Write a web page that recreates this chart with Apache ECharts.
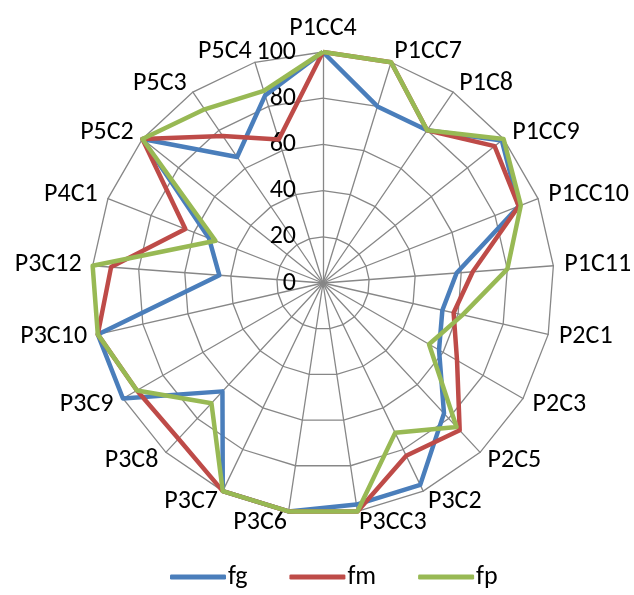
<!DOCTYPE html>
<html>
<head>
<meta charset="utf-8">
<script src="https://cdn.jsdelivr.net/npm/echarts@6/dist/echarts.min.js"></script>
<style>
  html, body { margin: 0; padding: 0; background: #ffffff; }
  #chart { width: 634px; height: 595px; }
</style>
</head>
<body>
<div id="chart"></div>
<script>
// Categories, listed clockwise from the top spoke
const categories = ['P1CC4', 'P1CC7', 'P1C8', 'P1CC9', 'P1CC10', 'P1C11', 'P2C1', 'P2C3', 'P2C5',
  'P3C2', 'P3CC3', 'P3C6', 'P3C7', 'P3C8', 'P3C9', 'P3C10', 'P3C12', 'P4C1', 'P5C2', 'P5C3', 'P5C4'];

const fg = [100, 80, 80, 99, 91, 58, 53, 58, 77, 97, 97, 100, 100, 64, 100, 100, 45, 53, 100, 66, 85];
const fm = [100, 100, 80, 95, 91, 65, 58, 67, 87, 83, 100, 100, 100, 92, 93, 100, 92, 64, 100, 77, 65];
const fp = [100, 100, 80, 100, 92, 80, 62, 53, 85, 72, 100, 100, 100, 71, 93, 100, 100, 50, 100, 91, 87];

const tickLabels = [0, 20, 40, 60, 80, 100];

const seriesNames = ['fg', 'fm', 'fp'];
const seriesColors = ['#4A7EBB', '#BE4B48', '#98B954'];

// ECharts lays radar spokes out counter-clockwise; reorder so they run clockwise
const order = [0];
for (let i = categories.length - 1; i >= 1; i--) order.push(i);
const reorder = arr => order.map(i => arr[i]);

const FONT = 'Carlito, Lato, sans-serif';
const FONT_SIZE = 26;
const center = [323, 283];
const radius = 231;
const axisMax = tickLabels[tickLabels.length - 1];

const chart = echarts.init(document.getElementById('chart'), null, { renderer: 'canvas' });

chart.setOption({
  animation: false,
  backgroundColor: '#ffffff',
  legend: {
    bottom: 0,
    left: 165,
    data: seriesNames,
    icon: 'roundRect',
    itemWidth: 56,
    itemHeight: 5,
    itemGap: 42,
    textStyle: { fontFamily: FONT, fontSize: FONT_SIZE, color: '#000', padding: [0, 0, 0, -3] }
  },
  radar: [
    {
      center: center,
      radius: radius,
      startAngle: 90,
      shape: 'polygon',
      splitNumber: tickLabels.length - 1,
      indicator: reorder(categories).map(name => ({ name: name, min: 0, max: axisMax })),
      axisName: { color: '#000', fontFamily: FONT, fontSize: FONT_SIZE },
      nameGap: 11,
      axisLine: { lineStyle: { color: '#878787', width: 1.3 } },
      splitLine: { lineStyle: { color: '#878787', width: 1.3 } },
      splitArea: { show: false },
      axisTick: { show: false },
      axisLabel: { show: false }
    },
    {
      // single spoke overlay carrying the value labels on the top axis
      center: center,
      radius: radius,
      startAngle: 90,
      shape: 'polygon',
      splitNumber: tickLabels.length - 1,
      indicator: [{ name: '', min: 0, max: axisMax }],
      axisName: { show: false },
      axisLine: { show: false },
      splitLine: { show: false },
      splitArea: { show: false },
      axisTick: { show: false },
      axisLabel: { show: true, color: '#000', fontFamily: FONT, fontSize: FONT_SIZE, margin: 27 }
    }
  ],
  series: [
    {
      type: 'radar',
      radarIndex: 0,
      symbol: 'none',
      data: [
        { name: 'fg', value: reorder(fg), lineStyle: { color: seriesColors[0], width: 4.5, join: 'round' }, itemStyle: { color: seriesColors[0] } },
        { name: 'fm', value: reorder(fm), lineStyle: { color: seriesColors[1], width: 4.5, join: 'round' }, itemStyle: { color: seriesColors[1] } },
        { name: 'fp', value: reorder(fp), lineStyle: { color: seriesColors[2], width: 4.5, join: 'round' }, itemStyle: { color: seriesColors[2] } }
      ]
    }
  ]
});
</script>
</body>
</html>
